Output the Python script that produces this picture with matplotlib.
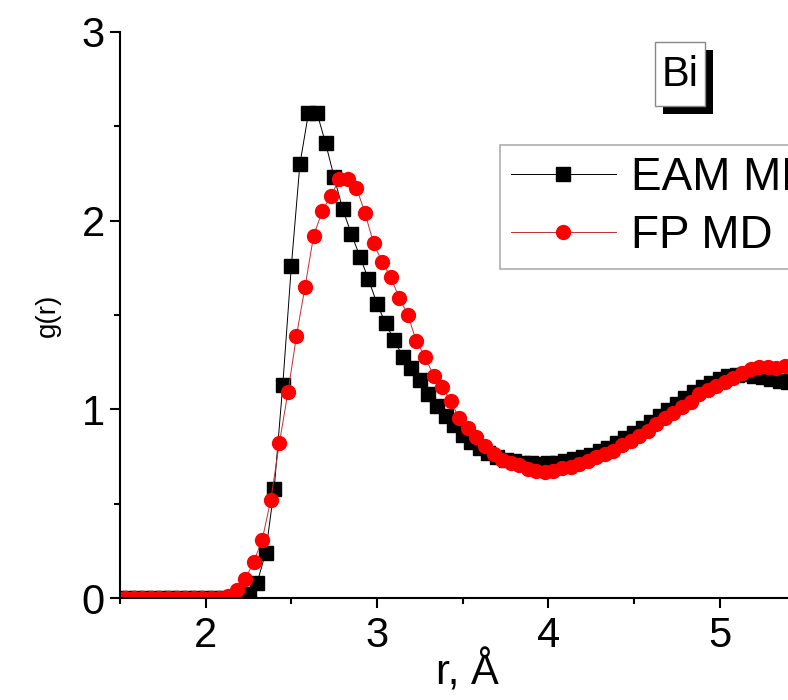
import numpy as np
import matplotlib
matplotlib.use('Agg')
import matplotlib.pyplot as plt
from matplotlib.patches import Rectangle
from matplotlib.ticker import MultipleLocator

plt.rcParams['font.family'] = ['Liberation Sans', 'DejaVu Sans']

# radial distribution function of liquid Bi
r_eam = np.round(np.arange(1.50, 5.401, 0.05), 2)
g_eam = [0, 0, 0, 0, 0, 0, 0, 0, 0, 0, 0, 0, 0, 0, 0,
         0.02, 0.08, 0.24, 0.58, 1.13, 1.76, 2.30, 2.57, 2.57, 2.41,
         2.23, 2.06, 1.93, 1.81, 1.69, 1.56, 1.455, 1.367, 1.28, 1.218,
         1.158, 1.08, 1.018, 0.967, 0.915, 0.866, 0.828, 0.795, 0.768, 0.748,
         0.733, 0.724, 0.717, 0.713, 0.712, 0.714, 0.718, 0.726, 0.735, 0.745,
         0.76, 0.778, 0.797, 0.82, 0.846, 0.872, 0.90, 0.932, 0.965, 0.998,
         1.03, 1.062, 1.092, 1.117, 1.14, 1.16, 1.175, 1.183, 1.185, 1.178,
         1.17, 1.16, 1.152, 1.145]

r_fp = np.round(np.arange(1.53, 5.431, 0.05), 2)
g_fp = [0, 0, 0, 0, 0, 0, 0, 0, 0, 0, 0, 0, 0.01,
        0.045, 0.10, 0.19, 0.31, 0.52, 0.82, 1.09, 1.39, 1.65, 1.92,
        2.05, 2.13, 2.22, 2.22, 2.175, 2.04, 1.88, 1.78, 1.70, 1.59,
        1.50, 1.36, 1.28, 1.178, 1.117, 1.044, 0.952, 0.902, 0.855, 0.806,
        0.763, 0.731, 0.714, 0.703, 0.682, 0.672, 0.668, 0.675, 0.69, 0.695,
        0.71, 0.728, 0.748, 0.765, 0.78, 0.81, 0.83, 0.86, 0.884, 0.922,
        0.955, 0.983, 1.01, 1.04, 1.08, 1.105, 1.125, 1.145, 1.165, 1.195,
        1.215, 1.222, 1.225, 1.22, 1.23, 1.235]

W, H = 788, 700
fig = plt.figure(figsize=(W / 100, H / 100), dpi=100)
ax = fig.add_axes([0.1523, 0.1457, 0.8806, 0.8086])

ax.plot(r_eam, g_eam, color='black', lw=0.7, marker='s', ms=10,
        mec='black', mfc='black', label='EAM MD')
ax.plot(r_fp, g_fp, color='#c03030', lw=0.7, marker='o', ms=10,
        mec='red', mfc='red', label='FP MD')

ax.set_xlim(1.5, 5.55)
ax.set_ylim(0, 3)
ax.xaxis.set_major_locator(MultipleLocator(1))
ax.xaxis.set_minor_locator(MultipleLocator(0.5))
ax.yaxis.set_major_locator(MultipleLocator(1))
ax.yaxis.set_minor_locator(MultipleLocator(0.5))
ax.tick_params(which='both', direction='out', width=1.5, labelsize=30)
ax.tick_params(which='major', length=7)
ax.tick_params(which='minor', length=4)
ax.tick_params(axis='x', pad=6)
ax.tick_params(axis='y', pad=4)

for side in ['top', 'right']:
    ax.spines[side].set_visible(False)
for side in ['left', 'bottom']:
    ax.spines[side].set_linewidth(1.5)

ax.set_xlabel('r, Å', fontsize=30, labelpad=-4)
ax.set_ylabel('g(r)', fontsize=20, labelpad=15)

leg = ax.legend(loc='upper left', bbox_to_anchor=(500 / W, 1 - 145 / H),
                bbox_transform=fig.transFigure, fontsize=33, frameon=True,
                fancybox=False, edgecolor='#999999', handlelength=2.3,
                handletextpad=0.33, labelspacing=0.32, borderpad=0.23,
                borderaxespad=0)
leg.get_frame().set_linewidth(1.2)

# element label: white box with a black drop shadow
bx0, by0, bw, bh = 655, 42, 50, 64
fig.add_artist(Rectangle(((bx0 + 8) / W, 1 - (by0 + 8 + bh) / H), bw / W, bh / H,
                         transform=fig.transFigure, fc='black', ec='black', lw=0))
fig.add_artist(Rectangle((bx0 / W, 1 - (by0 + bh) / H), bw / W, bh / H,
                         transform=fig.transFigure, fc='white', ec='#888888', lw=1))
fig.text((bx0 + bw / 2) / W, 1 - (by0 + bh / 2 + 1) / H, 'Bi', fontsize=30,
         ha='center', va='center', color='black')

fig.savefig('out.png', dpi=100)
